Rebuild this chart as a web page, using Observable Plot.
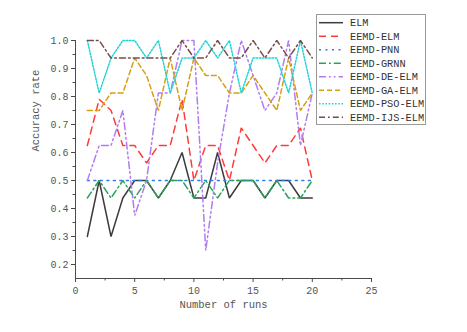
<!DOCTYPE html>
<html><head><meta charset="utf-8">
<script src="https://cdn.jsdelivr.net/npm/d3@7"></script>
<script src="https://cdn.jsdelivr.net/npm/@observablehq/plot@0.6"></script>
<style>
body{margin:0;background:#fff;}
#chart{position:relative;width:467px;height:332px;}
#legend{position:absolute;left:316px;top:14px;}
</style>
</head><body><div id="chart"></div>
<script>
const runs = [1,2,3,4,5,6,7,8,9,10,11,12,13,14,15,16,17,18,19,20];
const ELM          = [0.3,0.5,0.3,0.4375,0.5,0.5,0.4375,0.5,0.6,0.4375,0.4375,0.6,0.4375,0.5,0.5,0.4375,0.5,0.5,0.4375,0.4375];
const EEMD_ELM     = [0.625,0.79,0.75,0.625,0.625,0.5625,0.625,0.625,0.79,0.5,0.625,0.625,0.5,0.6875,0.625,0.5625,0.625,0.625,0.6875,0.5];
const EEMD_PNN     = [0.5,0.5,0.5,0.5,0.5,0.5,0.5,0.5,0.5,0.5,0.5,0.5,0.5,0.5,0.5,0.5,0.5,0.5,0.5,0.5];
const EEMD_GRNN    = [0.4375,0.5,0.4375,0.5,0.4375,0.5,0.4375,0.5,0.5,0.4375,0.5,0.4375,0.5,0.5,0.5,0.4375,0.5,0.4375,0.4375,0.5];
const EEMD_DE_ELM  = [0.5,0.625,0.625,0.75,0.375,0.5,0.8125,0.8125,1,1,0.25,0.5625,0.8125,1,0.875,0.75,0.8125,1,0.625,0.8125];
const EEMD_GA_ELM  = [0.75,0.75,0.8125,0.8125,0.9375,0.875,0.75,0.9375,0.75,0.9375,0.875,0.875,0.8125,0.8125,0.875,0.8125,0.75,0.9375,0.75,0.8125];
const EEMD_PSO_ELM = [1,0.8125,0.9375,1,1,0.9375,1,0.8125,0.9375,0.9375,1,0.9375,1,0.8125,0.9375,0.9375,0.9375,0.8125,1,0.8125];
const EEMD_IJS_ELM = [1,1,0.9375,0.9375,0.9375,0.9375,0.9375,0.9375,1,0.9375,0.9375,1,0.9375,0.9375,1,0.9375,1,0.9375,1,0.9375];

const seriesNames = ["ELM","EEMD-ELM","EEMD-PNN","EEMD-GRNN","EEMD-DE-ELM","EEMD-GA-ELM","EEMD-PSO-ELM","EEMD-IJS-ELM"];
const seriesValues = [ELM,EEMD_ELM,EEMD_PNN,EEMD_GRNN,EEMD_DE_ELM,EEMD_GA_ELM,EEMD_PSO_ELM,EEMD_IJS_ELM];
const colors = ["#3c3c3c","#ff3a3a","#2f7de6","#2aa35a","#b27cf0","#d6a012","#26d4d6","#7b4b4b"];
const dashes = [null,"7,5","2,4.5","7,3,1.8,3","7,3,1.8,3,1.8,3","5,3","1.6,1.6","6,3,1.8,3"];

const xTicks = [0,5,10,15,20,25];
const xMinor = [2.5,7.5,12.5,17.5,22.5];
const yTicks = [0.2,0.3,0.4,0.5,0.6,0.7,0.8,0.9,1.0];
const yMinor = [0.25,0.35,0.45,0.55,0.65,0.75,0.85,0.95];

const xTitle = "Number of runs";
const yTitle = "Accuracy rate";

const data = seriesNames.flatMap((name,k)=>runs.map((r,i)=>({name, run:r, acc:seriesValues[k][i]})));

const font = "'Liberation Mono', monospace";
const axisColor = "#4a4a4a";

const plot = Plot.plot({
  width:467, height:332,
  marginLeft:75, marginRight:96, marginTop:40, marginBottom:54,
  style:{fontFamily:font, fontSize:"10px", color:"#555", background:"#fff"},
  x:{domain:[0,25]},
  y:{domain:[0.15,1.0]},
  marks:[
    Plot.axisX({ticks:xTicks, tickSize:4, tickPadding:4, tickFormat:d=>String(d), label:null, stroke:axisColor}),
    Plot.axisX({ticks:xMinor, tickSize:2.5, tickFormat:()=>"", label:null, stroke:axisColor}),
    Plot.axisY({ticks:yTicks, tickSize:4, tickPadding:3, tickFormat:d3.format(".1f"), label:null, stroke:axisColor}),
    Plot.axisY({ticks:yMinor, tickSize:2.5, tickFormat:()=>"", label:null, stroke:axisColor}),
    Plot.ruleX([0], {stroke:axisColor, strokeWidth:1}),
    Plot.ruleY([0.15], {stroke:axisColor, strokeWidth:1}),
    ...seriesNames.map((name,k)=>Plot.line(data.filter(d=>d.name===name), {
      x:"run", y:"acc", stroke:colors[k], strokeWidth:1.5,
      strokeDasharray: dashes[k] || undefined, strokeLinejoin:"miter"
    })),
    Plot.text([xTitle], {frameAnchor:"bottom", dy:29, text:d=>d, fontSize:10.5, fill:"#555"}),
    Plot.text([yTitle], {frameAnchor:"left", dx:-40, dy:-8, rotate:-90, text:d=>d, fontSize:10.5, fill:"#555"})
  ]
});

const chart = document.getElementById("chart");
chart.appendChild(plot);

// legend
const lw = 110, lh = 111;
const leg = d3.select(chart).append("svg").attr("id","legend")
  .attr("width", lw).attr("height", lh)
  .style("font-family", font).style("font-size","10.3px");
leg.append("rect").attr("x",0.5).attr("y",0.5).attr("width",lw-1).attr("height",lh-1)
  .attr("fill","#fff").attr("stroke","#999").attr("stroke-width",1);
seriesNames.forEach((name,k)=>{
  const y = 8.7 + 13.5*k;
  leg.append("line").attr("x1",3).attr("x2",27).attr("y1",y).attr("y2",y)
    .attr("stroke",colors[k]).attr("stroke-width",1.5)
    .attr("stroke-dasharray", dashes[k] || null);
  leg.append("text").attr("x",34).attr("y",y).attr("dy","0.35em")
    .attr("fill","#333").text(name);
});
</script>
</body></html>
